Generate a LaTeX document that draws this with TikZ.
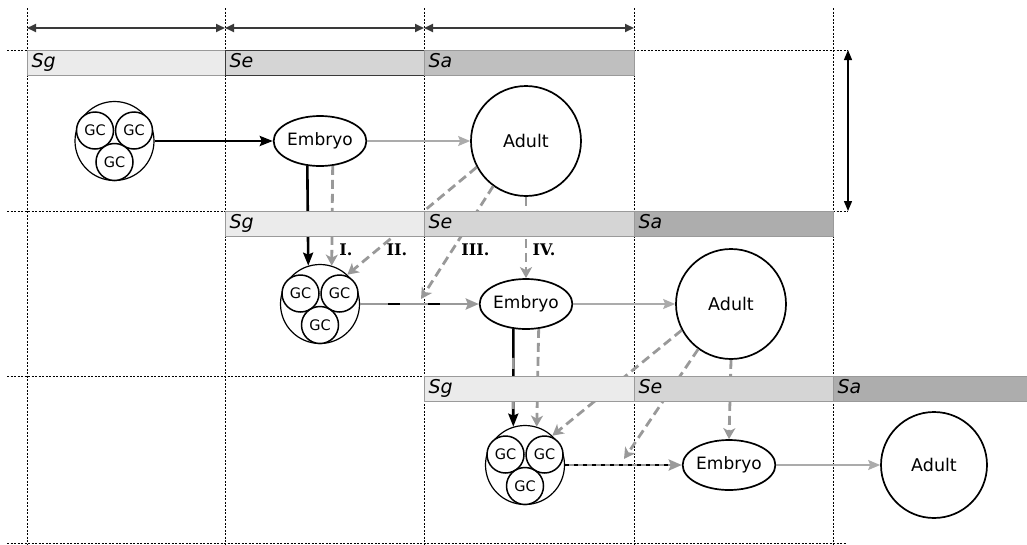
\documentclass[tikz,border=0pt]{standalone}
\usepackage{fontspec}
\setmainfont{DejaVu Sans}
\newfontfamily\serifbold{DejaVu Serif}
\usetikzlibrary{arrows.meta,shapes.geometric,calc}
\definecolor{sgc}{HTML}{EBEBEB}
\definecolor{sec}{HTML}{D5D5D5}
\definecolor{sac}{HTML}{BFBFBF}
\definecolor{sacb}{HTML}{ADADAD}
\definecolor{barline}{HTML}{9A9A9A}
\definecolor{lgray}{HTML}{ABABAB}
\definecolor{dgray}{HTML}{999999}
\definecolor{dimc}{HTML}{3A3A3A}
\tikzset{
  gridln/.style={black, line width=0.7pt, dash pattern=on 2pt off 1.5pt},
  dimarrow/.style={dimc, line width=2pt, {Triangle[length=9pt,width=8pt]}-{Triangle[length=9pt,width=8pt]}},
  vdim/.style={black, line width=1.3pt, {Triangle[length=10pt,width=8pt]}-{Triangle[length=10pt,width=8pt]}},
  bar/.style={draw=barline, line width=1pt, anchor=north west, minimum height=25pt,
    inner xsep=4pt, inner ysep=0pt, align=left, text height=13pt, text depth=4pt,
    font=\fontsize{19}{19}\selectfont\itshape},
  gcouter/.style={circle, draw, line width=1.2pt, fill=white, minimum size=79pt, inner sep=0pt},
  gcin/.style={circle, draw, line width=1.5pt, fill=white, minimum size=37pt, inner sep=0pt,
    font=\fontsize{14.5}{14.5}\selectfont},
  embryo/.style={ellipse, draw, line width=1.7pt, fill=white, minimum width=92pt,
    minimum height=50pt, inner sep=0pt, font=\fontsize{17}{17}\selectfont},
  adult/.style={circle, draw, line width=1.7pt, fill=white, minimum size=110pt, inner sep=0pt,
    font=\fontsize{17.5}{17.5}\selectfont},
  lab/.style={font=\serifbold\bfseries\fontsize{16}{16}\selectfont, inner sep=0pt},
  blk/.style={black, line width=2.6pt, -{Stealth[length=13pt,width=10pt,inset=2pt]}},
  gthin/.style={lgray, line width=1.6pt, -{Stealth[length=12pt,width=10pt,inset=2pt]}},
  gline/.style={dgray, line width=2.8pt, -{Stealth[length=13pt,width=11pt,inset=2pt]}},
  gdash/.style={dgray, line width=2.8pt, dash pattern=on 9pt off 5pt,
    -{Stealth[length=11pt,width=12pt,inset=3pt]}},
}
\newcommand\gcgroup[3]{%
  \node[gcouter] (#1) at (#2,#3) {};
  \node[gcin] (#1a) at ([shift={(-19.5,-10.5)}]#1.center) {GC};
  \node[gcin] (#1b) at ([shift={(19.5,-10.5)}]#1.center) {GC};
  \node[gcin] (#1c) at ([shift={(0,21)}]#1.center) {GC};
}
\begin{document}
\begin{tikzpicture}[x=1pt,y=-1pt]
\useasboundingbox (0,0) rectangle (1027,544);

% grid
\foreach \gx in {27,225,424,634,833} {\draw[gridln] (\gx,8) -- (\gx,544);}
\draw[gridln] (7,50) -- (848,50);
\draw[gridln] (7,211) -- (848,211);
\draw[gridln] (7,376) -- (1027,376);
\draw[gridln] (7,543) -- (846,543);

% dimension arrows
\coordinate (t0) at (27,28);
\coordinate (t1) at (225,28);
\coordinate (t2) at (424,28);
\coordinate (t3) at (634,28);
\draw[dimarrow] (t0) -- (t1);
\draw[dimarrow] (t1) -- (t2);
\draw[dimarrow] (t2) -- (t3);
\coordinate (v0) at (848,50);
\coordinate (v1) at (848,211);
\draw[vdim] (v0) -- (v1);

% nodes
\gcgroup{gc1}{114.5}{141}
\node[embryo] (emb1) at (320,141) {Embryo};
\node[adult] (ad1) at (526,141) {Adult};

\gcgroup{gc2}{320}{304}
\node[embryo] (emb2) at (526,304) {Embryo};
\node[adult] (ad2) at (731,304) {Adult};

\gcgroup{gc3}{525}{465}
\node[embryo] (emb3) at (729,465) {Embryo};
\node[adult, minimum size=106pt] (ad3) at (934,465) {Adult};

\coordinate (j2) at (421,299);
\coordinate (j3) at (624,459);

% row 1
\draw[blk] (gc1) -- (emb1);
\draw[gthin] (emb1) -- (ad1);
% row 1 -> 2
\draw[blk] (emb1.243) -- (gc2.107);
\draw[gdash] (emb1.297) -- (gc2.73);
\draw[gdash] (ad1.208) -- (gc2.47);
\draw[gdash] (ad1.234) -- (j2);
\draw[gdash] (ad1.south) -- (emb2.north);
% row 2
\draw[gline] (gc2) -- (emb2);
\draw[black, line width=2.8pt, dash pattern=on 12pt off 28pt, dash phase=12pt] (gc2) -- ([xshift=-16pt]emb2.west);
\draw[gthin] (emb2) -- (ad2);
% row 2 -> 3
\draw[blk] (emb2.243) -- (gc3.107);
\draw[dgray, line width=2.6pt, dash pattern=on 11pt off 29pt, dash phase=11pt] (emb2.243) -- (gc3.107);
\draw[gdash] (emb2.297) -- (gc3.73);
\draw[gdash] (ad2.208) -- (gc3.47);
\draw[gdash] (ad2.234) -- (j3);
\draw[gdash] (ad2.south) -- (emb3.north);
% row 3
\draw[gline] (gc3) -- (emb3);
\draw[black, line width=2.8pt, dash pattern=on 4pt off 5pt] (gc3) -- ([xshift=-13pt]emb3.west);
\draw[gthin] (emb3) -- (ad3);

% labels
\node[lab] (l1) at (346,250) {I.};
\node[lab] (l2) at (397,250) {II.};
\node[lab] (l3) at (475.5,250) {III.};
\node[lab] (l4) at (544,250) {IV.};

% bars
\node[bar, fill=sgc, text width=190pt] (b1g) at (27,50) {Sg};
\node[bar, fill=sec, draw=dimc, text width=191pt] (b1e) at (225,50) {Se};
\node[bar, fill=sac, text width=202pt] (b1a) at (424,50) {Sa};

\node[bar, fill=sgc, text width=191pt] (b2g) at (225,211) {Sg};
\node[bar, fill=sec, text width=202pt] (b2e) at (424,211) {Se};
\node[bar, fill=sacb, text width=191pt] (b2a) at (634,211) {Sa};

\node[bar, fill=sgc, text width=202pt] (b3g) at (424,376) {Sg};
\node[bar, fill=sec, text width=191pt] (b3e) at (634,376) {Se};
\node[bar, fill=sacb, text width=186pt] (b3a) at (833,376) {Sa};
\end{tikzpicture}
\end{document}
